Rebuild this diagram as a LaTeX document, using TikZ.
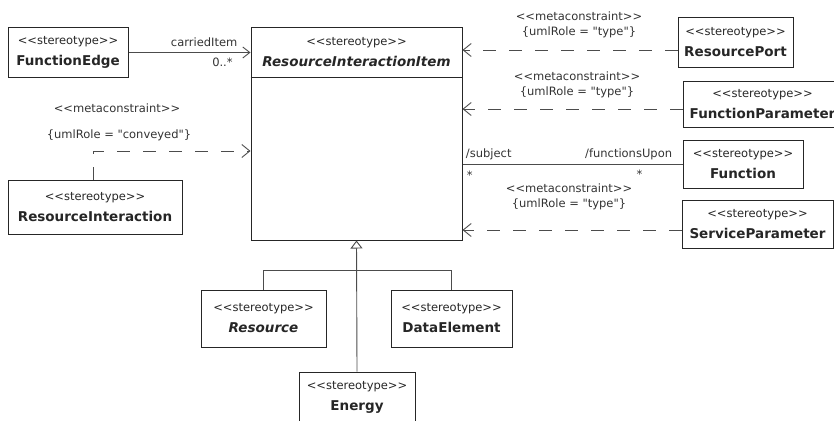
\documentclass[tikz,border=0pt]{standalone}
\usepackage{fontspec}
\setmainfont{DejaVu Sans}[Ligatures=TeXOff]
\usetikzlibrary{arrows.meta,positioning,calc}
\newcommand{\umlstereo}{<{}<stereotype>{}>}
\newcommand{\umlmeta}{<{}<metaconstraint>{}>}
\newcommand{\umlcls}[1]{\umlstereo\\{\fontsize{13.5}{21}\selectfont\bfseries #1}}

\begin{document}
\begin{tikzpicture}[x=1pt,y=-1pt,
  umlbox/.style={draw=black!85,line width=1pt,inner sep=0pt,align=center,
    font=\fontsize{11.5}{21}\selectfont,text=black!85},
  lbl/.style={inner sep=0pt,align=center,font=\fontsize{11.5}{15}\selectfont,text=black!80},
  assoc/.style={draw=black!70,line width=0.9pt},
  metadep/.style={assoc,dash pattern=on 13pt off 13pt,-{Straight Barb[length=8pt,width=13pt]}},
  genarrow/.style={assoc,-{Triangle[open,length=8pt,width=12pt]}}]
\useasboundingbox (0,0) rectangle (834,420);
\clip (0,0) rectangle (834,420);
% central class
\node[umlbox,minimum width=211pt,minimum height=212pt] (rii) at (356.5,134) {};
\node[umlbox,draw=none,anchor=north,minimum width=211pt,minimum height=49pt] (riihead) at (rii.north)
  {\umlcls{\itshape ResourceInteractionItem}};
\draw[black!85,line width=1pt] (riihead.south west) -- (riihead.south east);
% left classes
\node[umlbox,minimum width=120pt,minimum height=49pt] (fe) at (68,52.5) {\umlcls{FunctionEdge}};
\node[umlbox,minimum width=174pt,minimum height=54pt] (ri) at (95,207) {\umlcls{ResourceInteraction}};
% subclasses
\node[umlbox,minimum width=125pt,minimum height=57pt] (resource) at (263.5,318.5) {\umlcls{\itshape Resource}};
\node[umlbox,minimum width=121pt,minimum height=57pt] (dataelement) at (451.5,318.5) {\umlcls{DataElement}};
\node[umlbox,minimum width=116pt,minimum height=50pt] (energy) at (357,397) {\umlcls{Energy}};
% right classes
\node[umlbox,minimum width=115pt,minimum height=49pt] (rp) at (735.5,42.5) {\umlcls{ResourcePort}};
\node[umlbox,minimum width=159pt,minimum height=46pt] (fp) at (762.5,104) {\umlcls{FunctionParameter}};
\node[umlbox,minimum width=120pt,minimum height=48pt] (fn) at (743,164) {\umlcls{Function}};
\node[umlbox,minimum width=151pt,minimum height=48pt] (sp) at (757.5,224) {\umlcls{ServiceParameter}};

% carriedItem
\draw[assoc,-{Straight Barb[length=7pt,width=11pt]}] (fe.east) -- (fe.east -| rii.west)
  node[lbl,pos=0.62,above=5pt] {carriedItem}
  node[lbl,pos=0.77,below=5pt] {0..*};
% conveyed
\draw[metadep] ([xshift=86pt]ri.north west) |- ([yshift=-17pt]rii.west);
\node[lbl] (mcleft) at (117,108) {\umlmeta};
\node[lbl] (conveyed) at (119,135) {\{umlRole = "conveyed"\}};
% type constraints
\foreach \src/\dy in {rp/7.5,fp/5,sp/6}
  \draw[metadep] ([yshift=-\dy pt]\src.west) -- ([yshift=-\dy pt]\src.west -| rii.east);
\foreach \n/\x/\y in {mcrp/579/25,mcfp/577/85,mcsp/569/197}
  \node[lbl] (\n) at (\x,\y) {\umlmeta\\\{umlRole = "type"\}};
% functionsUpon
\draw[assoc] (fn.west -| rii.east) -- (fn.west)
  node[lbl,pos=0,above right=4pt and 3pt] {/subject}
  node[lbl,pos=0,below right=7pt and 4pt] {*}
  node[lbl,pos=1,above left=4pt and 10pt] {/functionsUpon}
  node[lbl,pos=0.805,below=6pt] {*};
% generalization
\draw[genarrow] (energy.north) -- (rii.south);
\draw[assoc] (resource.north) |- ([yshift=-30pt]rii.south) -| (dataelement.north);
\end{tikzpicture}
\end{document}
